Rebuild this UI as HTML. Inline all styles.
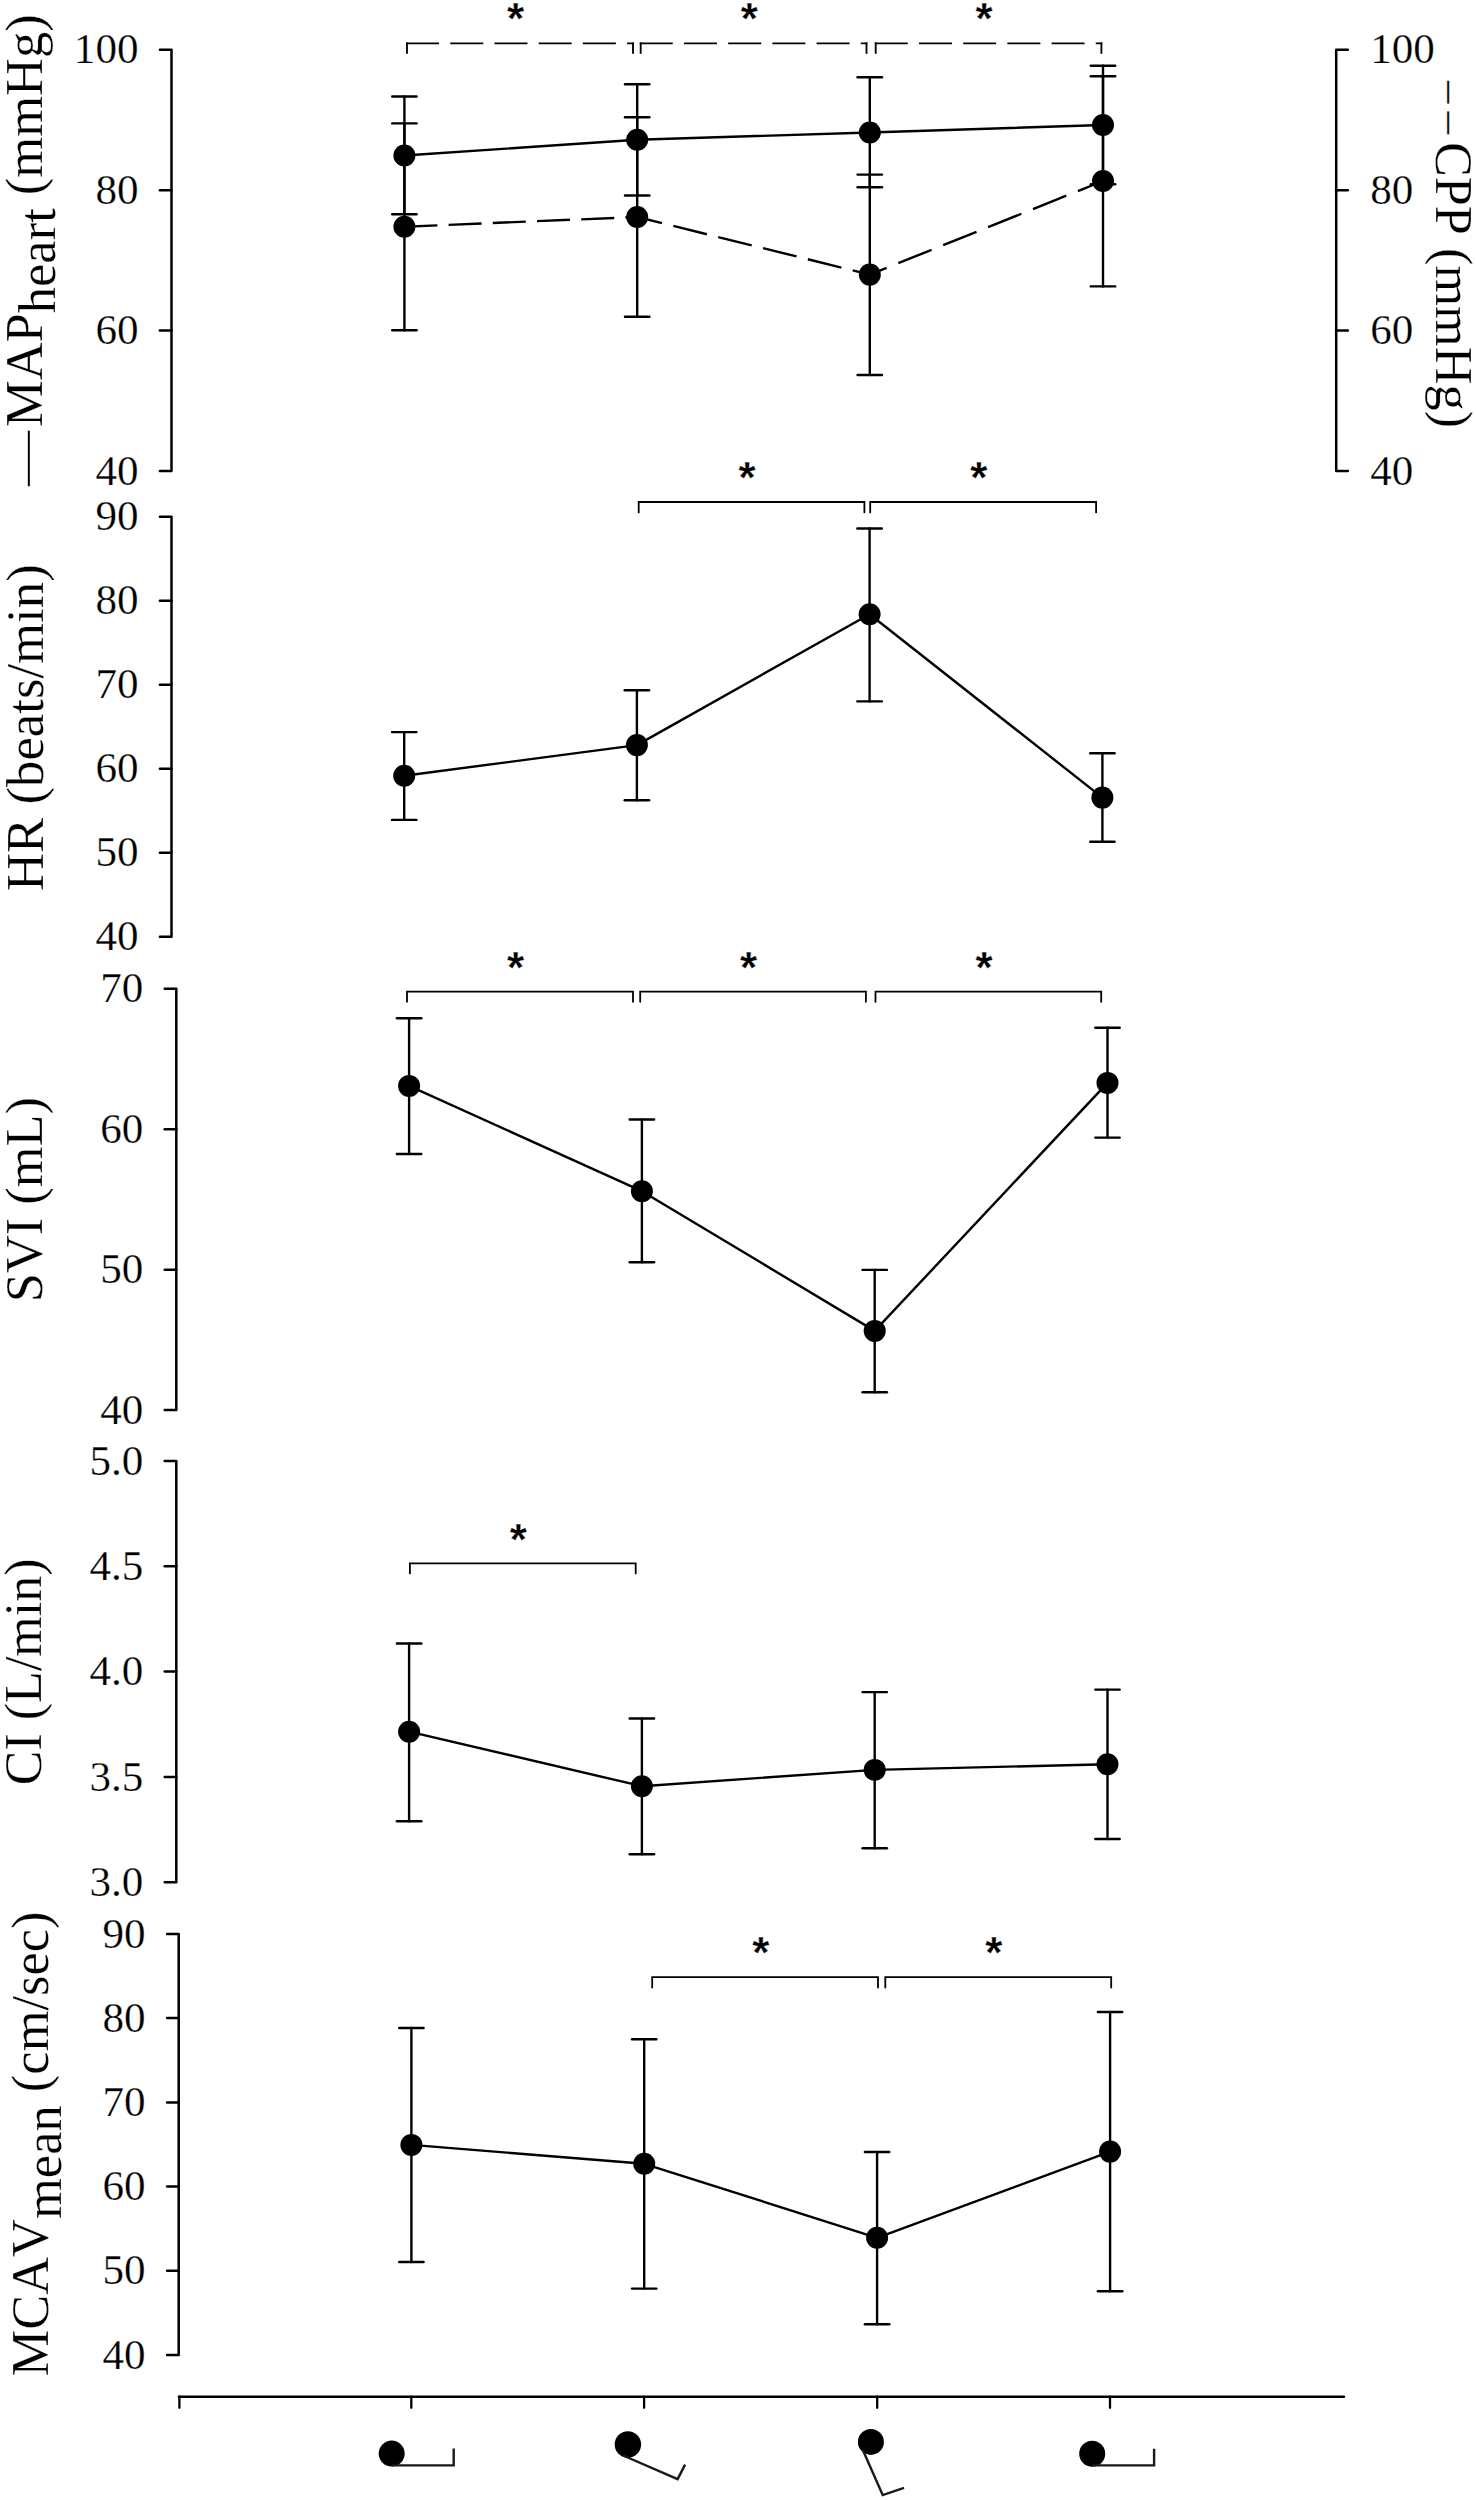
<!DOCTYPE html>
<html lang="en"><head><meta charset="utf-8"><title>Hemodynamic responses</title>
<style>
html,body{margin:0;padding:0;background:#fff;overflow:hidden}
svg{display:block}
text{font-family:"Liberation Serif",serif;fill:#000;font-kerning:none;stroke:none}
.tk,.lb{stroke:#fff;stroke-width:0.25px;stroke-linejoin:round}
.tk{font-size:43.1px}
.lb{font-size:52.5px}
.as{font-family:"Liberation Sans",sans-serif;font-weight:bold;font-size:44px;stroke:#fff;stroke-width:0.3px}
</style></head>
<body>
<svg width="1476" height="2500" viewBox="0 0 1476 2500" stroke="#000" stroke-linecap="round">
<rect x="0" y="0" width="1476" height="2500" fill="#fff" stroke="none"/>
<path d="M159.90 49.80H171.50V470.90H159.90" fill="none" stroke-width="2.5" stroke-linejoin="round"/>
<line x1="159.90" y1="190.20" x2="171.50" y2="190.20" stroke-width="2.5" />
<line x1="159.90" y1="330.50" x2="171.50" y2="330.50" stroke-width="2.5" />
<text class="tk" transform="translate(138.50 63.40) scale(1 1.0)" text-anchor="end">100</text>
<text class="tk" transform="translate(138.50 203.80) scale(1 1.0)" text-anchor="end">80</text>
<text class="tk" transform="translate(138.50 344.10) scale(1 1.0)" text-anchor="end">60</text>
<text class="tk" transform="translate(138.50 484.50) scale(1 1.0)" text-anchor="end">40</text>
<path d="M1347.80 49.80H1336.20V470.90H1347.80" fill="none" stroke-width="2.5" stroke-linejoin="round"/>
<line x1="1336.20" y1="190.20" x2="1347.80" y2="190.20" stroke-width="2.5" />
<line x1="1336.20" y1="330.50" x2="1347.80" y2="330.50" stroke-width="2.5" />
<text class="tk" transform="translate(1370.20 63.40) scale(1 1.0)">100</text>
<text class="tk" transform="translate(1370.20 203.80) scale(1 1.0)">80</text>
<text class="tk" transform="translate(1370.20 344.10) scale(1 1.0)">60</text>
<text class="tk" transform="translate(1370.20 484.50) scale(1 1.0)">40</text>
<line x1="404.40" y1="123.40" x2="404.40" y2="330.30" stroke-width="2.4" />
<line x1="392.20" y1="123.40" x2="416.60" y2="123.40" stroke-width="2.4" />
<line x1="392.20" y1="330.30" x2="416.60" y2="330.30" stroke-width="2.4" />
<line x1="637.20" y1="117.30" x2="637.20" y2="316.80" stroke-width="2.4" />
<line x1="625.00" y1="117.30" x2="649.40" y2="117.30" stroke-width="2.4" />
<line x1="625.00" y1="316.80" x2="649.40" y2="316.80" stroke-width="2.4" />
<line x1="869.80" y1="174.60" x2="869.80" y2="375.00" stroke-width="2.4" />
<line x1="857.60" y1="174.60" x2="882.00" y2="174.60" stroke-width="2.4" />
<line x1="857.60" y1="375.00" x2="882.00" y2="375.00" stroke-width="2.4" />
<line x1="1103.00" y1="76.20" x2="1103.00" y2="286.40" stroke-width="2.4" />
<line x1="1090.80" y1="76.20" x2="1115.20" y2="76.20" stroke-width="2.4" />
<line x1="1090.80" y1="286.40" x2="1115.20" y2="286.40" stroke-width="2.4" />
<line x1="404.40" y1="226.70" x2="637.20" y2="217.00" stroke-width="2.4" stroke-linecap="butt" stroke-dasharray="33.03 11.21" stroke-dashoffset="0.00"/>
<line x1="637.20" y1="217.00" x2="869.80" y2="274.60" stroke-width="2.4" stroke-linecap="butt" stroke-dasharray="34.51 11.69" stroke-dashoffset="8.96"/>
<line x1="869.80" y1="274.60" x2="1103.00" y2="181.00" stroke-width="2.4" stroke-linecap="butt" stroke-dasharray="35.88 12.50" stroke-dashoffset="17.67"/>
<circle cx="404.40" cy="226.70" r="11.0" fill="#000" stroke="none"/>
<circle cx="637.20" cy="217.00" r="11.0" fill="#000" stroke="none"/>
<circle cx="869.80" cy="274.60" r="11.0" fill="#000" stroke="none"/>
<circle cx="1103.00" cy="181.00" r="11.0" fill="#000" stroke="none"/>
<line x1="404.40" y1="96.50" x2="404.40" y2="214.30" stroke-width="2.4" />
<line x1="392.20" y1="96.50" x2="416.60" y2="96.50" stroke-width="2.4" />
<line x1="392.20" y1="214.30" x2="416.60" y2="214.30" stroke-width="2.4" />
<line x1="637.20" y1="84.30" x2="637.20" y2="195.50" stroke-width="2.4" />
<line x1="625.00" y1="84.30" x2="649.40" y2="84.30" stroke-width="2.4" />
<line x1="625.00" y1="195.50" x2="649.40" y2="195.50" stroke-width="2.4" />
<line x1="869.80" y1="77.20" x2="869.80" y2="187.30" stroke-width="2.4" />
<line x1="857.60" y1="77.20" x2="882.00" y2="77.20" stroke-width="2.4" />
<line x1="857.60" y1="187.30" x2="882.00" y2="187.30" stroke-width="2.4" />
<line x1="1103.00" y1="65.70" x2="1103.00" y2="184.30" stroke-width="2.4" />
<line x1="1090.80" y1="65.70" x2="1115.20" y2="65.70" stroke-width="2.4" />
<line x1="1090.80" y1="184.30" x2="1115.20" y2="184.30" stroke-width="2.4" />
<path d="M404.40 155.50 L637.20 139.80 L869.80 132.50 L1103.00 125.00" fill="none" stroke-width="2.4" stroke-linejoin="round"/>
<circle cx="404.40" cy="155.50" r="11.0" fill="#000" stroke="none"/>
<circle cx="637.20" cy="139.80" r="11.0" fill="#000" stroke="none"/>
<circle cx="869.80" cy="132.50" r="11.0" fill="#000" stroke="none"/>
<circle cx="1103.00" cy="125.00" r="11.0" fill="#000" stroke="none"/>
<line x1="407.00" y1="53.80" x2="407.00" y2="42.38" stroke-width="1.85" stroke-linecap="butt"/>
<line x1="633.00" y1="53.80" x2="633.00" y2="42.38" stroke-width="1.85" stroke-linecap="butt"/>
<line x1="406.07" y1="43.30" x2="633.92" y2="43.30" stroke-width="1.85" stroke-linecap="butt" stroke-dasharray="33 11.2"/>
<text class="as" x="515.60" y="33.50" text-anchor="middle">*</text>
<line x1="640.70" y1="53.80" x2="640.70" y2="42.38" stroke-width="1.85" stroke-linecap="butt"/>
<line x1="866.50" y1="53.80" x2="866.50" y2="42.38" stroke-width="1.85" stroke-linecap="butt"/>
<line x1="639.78" y1="43.30" x2="867.42" y2="43.30" stroke-width="1.85" stroke-linecap="butt" stroke-dasharray="33 11.2"/>
<text class="as" x="749.20" y="33.50" text-anchor="middle">*</text>
<line x1="875.70" y1="53.80" x2="875.70" y2="42.38" stroke-width="1.85" stroke-linecap="butt"/>
<line x1="1101.40" y1="53.80" x2="1101.40" y2="42.38" stroke-width="1.85" stroke-linecap="butt"/>
<line x1="874.78" y1="43.30" x2="1102.33" y2="43.30" stroke-width="1.85" stroke-linecap="butt" stroke-dasharray="33 11.2"/>
<text class="as" x="984.15" y="33.50" text-anchor="middle">*</text>
<text class="lb" transform="translate(41.70 427.00) rotate(-90)">MAP<tspan dy="13.2">heart</tspan><tspan dy="-13.2"> (mmHg)</tspan></text>
<text class="lb" style="font-size:44px" transform="translate(38.55 486.1) rotate(-90) scale(1.25 1)">—</text>
<text class="lb" style="font-size:52.3px" transform="translate(1435.8 141.9) rotate(90)">CPP (mmHg)</text>
<text class="lb" style="font-size:45px" transform="translate(1437.9 81.1) rotate(90)"><tspan>–</tspan><tspan dx="7.8">–</tspan></text>
<path d="M159.90 516.70H171.50V936.80H159.90" fill="none" stroke-width="2.5" stroke-linejoin="round"/>
<line x1="159.90" y1="600.70" x2="171.50" y2="600.70" stroke-width="2.5" />
<line x1="159.90" y1="684.70" x2="171.50" y2="684.70" stroke-width="2.5" />
<line x1="159.90" y1="768.80" x2="171.50" y2="768.80" stroke-width="2.5" />
<line x1="159.90" y1="852.80" x2="171.50" y2="852.80" stroke-width="2.5" />
<text class="tk" transform="translate(138.50 530.30) scale(1 1.0)" text-anchor="end">90</text>
<text class="tk" transform="translate(138.50 614.30) scale(1 1.0)" text-anchor="end">80</text>
<text class="tk" transform="translate(138.50 698.30) scale(1 1.0)" text-anchor="end">70</text>
<text class="tk" transform="translate(138.50 782.40) scale(1 1.0)" text-anchor="end">60</text>
<text class="tk" transform="translate(138.50 866.40) scale(1 1.0)" text-anchor="end">50</text>
<text class="tk" transform="translate(138.50 950.40) scale(1 1.0)" text-anchor="end">40</text>
<line x1="404.20" y1="732.10" x2="404.20" y2="819.90" stroke-width="2.4" />
<line x1="392.00" y1="732.10" x2="416.40" y2="732.10" stroke-width="2.4" />
<line x1="392.00" y1="819.90" x2="416.40" y2="819.90" stroke-width="2.4" />
<line x1="636.90" y1="690.30" x2="636.90" y2="800.20" stroke-width="2.4" />
<line x1="624.70" y1="690.30" x2="649.10" y2="690.30" stroke-width="2.4" />
<line x1="624.70" y1="800.20" x2="649.10" y2="800.20" stroke-width="2.4" />
<line x1="869.60" y1="528.50" x2="869.60" y2="701.40" stroke-width="2.4" />
<line x1="857.40" y1="528.50" x2="881.80" y2="528.50" stroke-width="2.4" />
<line x1="857.40" y1="701.40" x2="881.80" y2="701.40" stroke-width="2.4" />
<line x1="1102.40" y1="753.30" x2="1102.40" y2="841.70" stroke-width="2.4" />
<line x1="1090.20" y1="753.30" x2="1114.60" y2="753.30" stroke-width="2.4" />
<line x1="1090.20" y1="841.70" x2="1114.60" y2="841.70" stroke-width="2.4" />
<path d="M404.20 775.80 L636.90 745.10 L869.60 614.20 L1102.40 797.60" fill="none" stroke-width="2.4" stroke-linejoin="round"/>
<circle cx="404.20" cy="775.80" r="11.0" fill="#000" stroke="none"/>
<circle cx="636.90" cy="745.10" r="11.0" fill="#000" stroke="none"/>
<circle cx="869.60" cy="614.20" r="11.0" fill="#000" stroke="none"/>
<circle cx="1102.40" cy="797.60" r="11.0" fill="#000" stroke="none"/>
<path d="M638.70 512.40V502.00H864.40V512.40" fill="none" stroke-width="1.8" stroke-linejoin="miter"/>
<text class="as" x="747.15" y="493.20" text-anchor="middle">*</text>
<path d="M870.20 512.40V502.00H1096.10V512.40" fill="none" stroke-width="1.8" stroke-linejoin="miter"/>
<text class="as" x="978.75" y="493.20" text-anchor="middle">*</text>
<text class="lb" style="font-size:52.75px" transform="translate(42.60 891.00) rotate(-90)">HR (beats/min)</text>
<path d="M164.70 988.80H176.30V1410.00H164.70" fill="none" stroke-width="2.5" stroke-linejoin="round"/>
<line x1="164.70" y1="1129.30" x2="176.30" y2="1129.30" stroke-width="2.5" />
<line x1="164.70" y1="1269.70" x2="176.30" y2="1269.70" stroke-width="2.5" />
<text class="tk" transform="translate(143.30 1002.40) scale(1 1.0)" text-anchor="end">70</text>
<text class="tk" transform="translate(143.30 1142.90) scale(1 1.0)" text-anchor="end">60</text>
<text class="tk" transform="translate(143.30 1283.30) scale(1 1.0)" text-anchor="end">50</text>
<text class="tk" transform="translate(143.30 1423.60) scale(1 1.0)" text-anchor="end">40</text>
<line x1="409.10" y1="1018.30" x2="409.10" y2="1154.00" stroke-width="2.4" />
<line x1="396.90" y1="1018.30" x2="421.30" y2="1018.30" stroke-width="2.4" />
<line x1="396.90" y1="1154.00" x2="421.30" y2="1154.00" stroke-width="2.4" />
<line x1="641.90" y1="1119.50" x2="641.90" y2="1262.20" stroke-width="2.4" />
<line x1="629.70" y1="1119.50" x2="654.10" y2="1119.50" stroke-width="2.4" />
<line x1="629.70" y1="1262.20" x2="654.10" y2="1262.20" stroke-width="2.4" />
<line x1="874.70" y1="1269.90" x2="874.70" y2="1392.20" stroke-width="2.4" />
<line x1="862.50" y1="1269.90" x2="886.90" y2="1269.90" stroke-width="2.4" />
<line x1="862.50" y1="1392.20" x2="886.90" y2="1392.20" stroke-width="2.4" />
<line x1="1107.50" y1="1027.80" x2="1107.50" y2="1137.60" stroke-width="2.4" />
<line x1="1095.30" y1="1027.80" x2="1119.70" y2="1027.80" stroke-width="2.4" />
<line x1="1095.30" y1="1137.60" x2="1119.70" y2="1137.60" stroke-width="2.4" />
<path d="M409.10 1085.90 L641.90 1191.20 L874.70 1330.90 L1107.50 1082.90" fill="none" stroke-width="2.4" stroke-linejoin="round"/>
<circle cx="409.10" cy="1085.90" r="11.0" fill="#000" stroke="none"/>
<circle cx="641.90" cy="1191.20" r="11.0" fill="#000" stroke="none"/>
<circle cx="874.70" cy="1330.90" r="11.0" fill="#000" stroke="none"/>
<circle cx="1107.50" cy="1082.90" r="11.0" fill="#000" stroke="none"/>
<path d="M407.00 1001.80V991.60H633.00V1001.80" fill="none" stroke-width="1.8" stroke-linejoin="miter"/>
<text class="as" x="515.60" y="982.80" text-anchor="middle">*</text>
<path d="M640.20 1001.80V991.60H865.90V1001.80" fill="none" stroke-width="1.8" stroke-linejoin="miter"/>
<text class="as" x="748.65" y="982.80" text-anchor="middle">*</text>
<path d="M875.50 1001.80V991.60H1101.20V1001.80" fill="none" stroke-width="1.8" stroke-linejoin="miter"/>
<text class="as" x="983.95" y="982.80" text-anchor="middle">*</text>
<text class="lb" style="font-size:52.4px" transform="translate(41.70 1302.20) rotate(-90)">SVI (mL)</text>
<path d="M164.70 1460.90H176.30V1882.30H164.70" fill="none" stroke-width="2.5" stroke-linejoin="round"/>
<line x1="164.70" y1="1566.30" x2="176.30" y2="1566.30" stroke-width="2.5" />
<line x1="164.70" y1="1671.60" x2="176.30" y2="1671.60" stroke-width="2.5" />
<line x1="164.70" y1="1777.00" x2="176.30" y2="1777.00" stroke-width="2.5" />
<text class="tk" transform="translate(143.30 1474.50) scale(1 1.0)" text-anchor="end">5.0</text>
<text class="tk" transform="translate(143.30 1579.90) scale(1 1.0)" text-anchor="end">4.5</text>
<text class="tk" transform="translate(143.30 1685.20) scale(1 1.0)" text-anchor="end">4.0</text>
<text class="tk" transform="translate(143.30 1790.60) scale(1 1.0)" text-anchor="end">3.5</text>
<text class="tk" transform="translate(143.30 1895.90) scale(1 1.0)" text-anchor="end">3.0</text>
<line x1="409.10" y1="1643.50" x2="409.10" y2="1821.30" stroke-width="2.4" />
<line x1="396.90" y1="1643.50" x2="421.30" y2="1643.50" stroke-width="2.4" />
<line x1="396.90" y1="1821.30" x2="421.30" y2="1821.30" stroke-width="2.4" />
<line x1="641.90" y1="1718.50" x2="641.90" y2="1854.30" stroke-width="2.4" />
<line x1="629.70" y1="1718.50" x2="654.10" y2="1718.50" stroke-width="2.4" />
<line x1="629.70" y1="1854.30" x2="654.10" y2="1854.30" stroke-width="2.4" />
<line x1="874.70" y1="1692.10" x2="874.70" y2="1848.20" stroke-width="2.4" />
<line x1="862.50" y1="1692.10" x2="886.90" y2="1692.10" stroke-width="2.4" />
<line x1="862.50" y1="1848.20" x2="886.90" y2="1848.20" stroke-width="2.4" />
<line x1="1107.50" y1="1689.60" x2="1107.50" y2="1839.00" stroke-width="2.4" />
<line x1="1095.30" y1="1689.60" x2="1119.70" y2="1689.60" stroke-width="2.4" />
<line x1="1095.30" y1="1839.00" x2="1119.70" y2="1839.00" stroke-width="2.4" />
<path d="M409.10 1731.70 L641.90 1786.20 L874.70 1769.90 L1107.50 1764.20" fill="none" stroke-width="2.4" stroke-linejoin="round"/>
<circle cx="409.10" cy="1731.70" r="11.0" fill="#000" stroke="none"/>
<circle cx="641.90" cy="1786.20" r="11.0" fill="#000" stroke="none"/>
<circle cx="874.70" cy="1769.90" r="11.0" fill="#000" stroke="none"/>
<circle cx="1107.50" cy="1764.20" r="11.0" fill="#000" stroke="none"/>
<path d="M409.90 1573.40V1563.40H635.70V1573.40" fill="none" stroke-width="1.8" stroke-linejoin="miter"/>
<text class="as" x="518.40" y="1554.60" text-anchor="middle">*</text>
<text class="lb" style="font-size:52.0px" transform="translate(41.20 1785.20) rotate(-90)">CI (L/min)</text>
<path d="M167.10 1933.90H178.70V2355.00H167.10" fill="none" stroke-width="2.5" stroke-linejoin="round"/>
<line x1="167.10" y1="2018.10" x2="178.70" y2="2018.10" stroke-width="2.5" />
<line x1="167.10" y1="2102.40" x2="178.70" y2="2102.40" stroke-width="2.5" />
<line x1="167.10" y1="2186.60" x2="178.70" y2="2186.60" stroke-width="2.5" />
<line x1="167.10" y1="2270.80" x2="178.70" y2="2270.80" stroke-width="2.5" />
<text class="tk" transform="translate(145.60 1947.50) scale(1 1.0)" text-anchor="end">90</text>
<text class="tk" transform="translate(145.60 2031.70) scale(1 1.0)" text-anchor="end">80</text>
<text class="tk" transform="translate(145.60 2116.00) scale(1 1.0)" text-anchor="end">70</text>
<text class="tk" transform="translate(145.60 2200.20) scale(1 1.0)" text-anchor="end">60</text>
<text class="tk" transform="translate(145.60 2284.40) scale(1 1.0)" text-anchor="end">50</text>
<text class="tk" transform="translate(145.60 2368.60) scale(1 1.0)" text-anchor="end">40</text>
<line x1="411.40" y1="2028.00" x2="411.40" y2="2262.00" stroke-width="2.4" />
<line x1="399.20" y1="2028.00" x2="423.60" y2="2028.00" stroke-width="2.4" />
<line x1="399.20" y1="2262.00" x2="423.60" y2="2262.00" stroke-width="2.4" />
<line x1="644.20" y1="2039.20" x2="644.20" y2="2288.60" stroke-width="2.4" />
<line x1="632.00" y1="2039.20" x2="656.40" y2="2039.20" stroke-width="2.4" />
<line x1="632.00" y1="2288.60" x2="656.40" y2="2288.60" stroke-width="2.4" />
<line x1="877.10" y1="2152.00" x2="877.10" y2="2324.20" stroke-width="2.4" />
<line x1="864.90" y1="2152.00" x2="889.30" y2="2152.00" stroke-width="2.4" />
<line x1="864.90" y1="2324.20" x2="889.30" y2="2324.20" stroke-width="2.4" />
<line x1="1110.10" y1="2012.00" x2="1110.10" y2="2291.30" stroke-width="2.4" />
<line x1="1097.90" y1="2012.00" x2="1122.30" y2="2012.00" stroke-width="2.4" />
<line x1="1097.90" y1="2291.30" x2="1122.30" y2="2291.30" stroke-width="2.4" />
<path d="M411.40 2144.90 L644.20 2163.80 L877.10 2237.80 L1110.10 2151.60" fill="none" stroke-width="2.4" stroke-linejoin="round"/>
<circle cx="411.40" cy="2144.90" r="11.0" fill="#000" stroke="none"/>
<circle cx="644.20" cy="2163.80" r="11.0" fill="#000" stroke="none"/>
<circle cx="877.10" cy="2237.80" r="11.0" fill="#000" stroke="none"/>
<circle cx="1110.10" cy="2151.60" r="11.0" fill="#000" stroke="none"/>
<path d="M652.20 1987.60V1977.20H878.00V1987.60" fill="none" stroke-width="1.8" stroke-linejoin="miter"/>
<text class="as" x="760.70" y="1968.40" text-anchor="middle">*</text>
<path d="M885.30 1987.60V1977.20H1111.20V1987.60" fill="none" stroke-width="1.8" stroke-linejoin="miter"/>
<text class="as" x="993.85" y="1968.40" text-anchor="middle">*</text>
<text class="lb" transform="translate(48.00 2376.50) rotate(-90)">MCAV<tspan dy="12.9">mean</tspan><tspan dy="-12.9"> (cm/sec)</tspan></text>
<line x1="178.90" y1="2396.70" x2="1344.00" y2="2396.70" stroke-width="2.4" />
<line x1="179.40" y1="2396.70" x2="179.40" y2="2407.80" stroke-width="2.3" />
<line x1="411.30" y1="2396.70" x2="411.30" y2="2407.80" stroke-width="2.3" />
<line x1="644.10" y1="2396.70" x2="644.10" y2="2407.80" stroke-width="2.3" />
<line x1="877.20" y1="2396.70" x2="877.20" y2="2407.80" stroke-width="2.3" />
<line x1="1110.00" y1="2396.70" x2="1110.00" y2="2407.80" stroke-width="2.3" />
<circle cx="391.7" cy="2453.6" r="13.0" fill="#000" stroke="none"/><path d="M392 2465.4H453.7V2448.6" fill="none" stroke="#19191b" stroke-width="2.4" stroke-linecap="butt" stroke-linejoin="miter"/>
<circle cx="627.9" cy="2444.4" r="13.2" fill="#000" stroke="none"/><path d="M623.1 2455.5L677.6 2479.1L685.1 2464.6" fill="none" stroke="#19191b" stroke-width="2.4" stroke-linecap="butt" stroke-linejoin="miter"/>
<circle cx="870.9" cy="2441.9" r="13.0" fill="#000" stroke="none"/><path d="M862.5 2449.2L882.7 2495.1L904 2487.8" fill="none" stroke="#19191b" stroke-width="2.4" stroke-linecap="butt" stroke-linejoin="miter"/>
<circle cx="1092.2" cy="2453.7" r="13.0" fill="#000" stroke="none"/><path d="M1092.5 2465.4H1154.1V2448.8" fill="none" stroke="#19191b" stroke-width="2.4" stroke-linecap="butt" stroke-linejoin="miter"/>
</svg>
</body></html>
